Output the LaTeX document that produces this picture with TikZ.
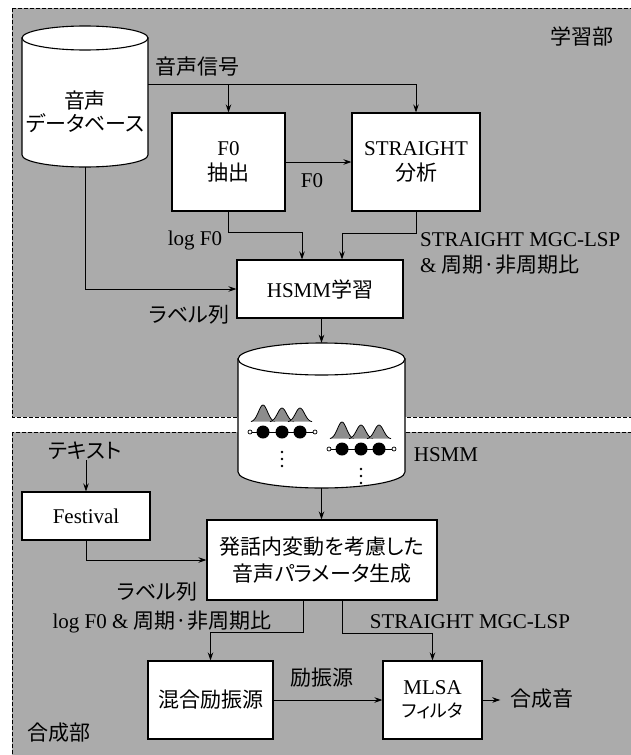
\documentclass[tikz,border=0pt]{standalone}
\usepackage{fontspec}
\setmainfont{Liberation Serif}
\newfontfamily\jpfont{Noto Sans CJK JP}[RawFeature=+palt]
\usetikzlibrary{arrows.meta, positioning, calc}

\begin{document}
\begin{tikzpicture}[x=1pt, y=-1pt, >={Stealth[length=8pt, width=5.5pt]},
    font=\fontsize{21}{25}\selectfont,
    bloc/.style={draw, fill=white, line width=1.1pt, align=center, inner sep=0pt},
    lien/.style={line width=1pt},
    panneau/.style={fill=black!33, draw, dash pattern=on 4pt off 2pt, line width=0.9pt},
    etiq/.style={inner sep=0pt, align=left}]

    \clip (0,0) rectangle (631,755);
    \fill[white] (0,0) rectangle (631,755);

    % Les deux parties
    \draw[panneau] (12,8) rectangle (640,417);
    \draw[panneau] (12,432) rectangle (640,765);
    \node[etiq] (appr) at (582,36) {\jpfont 学習部};
    \node[etiq] (synth) at (59,733) {\jpfont 合成部};

    % Base de données vocale
    \draw[fill=white, line width=1.1pt] (22,38) -- (22,155)
        arc[start angle=180, end angle=0, x radius=63, y radius=12] -- (148,38) -- cycle;
    \draw[fill=white, line width=1.1pt] (85,38) ellipse[x radius=63, y radius=12];
    \node[inner sep=0pt, minimum width=126pt, minimum height=141pt] (db) at (85,96.5) {};
    \node[etiq, align=center, font=\fontsize{21}{23}\selectfont] (dbtxt) at (85,111.5)
        {{\jpfont 音声}\\{\jpfont データベース}};

    % Blocs d'apprentissage
    \node[bloc, minimum width=113pt, minimum height=98pt] (f0) at (228.5,162) {F0\\{\jpfont 抽出}};
    \node[bloc, minimum width=128pt, minimum height=98pt] (sa) at (416,162) {STRAIGHT\\{\jpfont 分析}};
    \node[bloc, minimum width=166pt, minimum height=58pt] (hl) at (320,289) {HSMM{\jpfont 学習}};

    % Modèle HSMM
    \draw[fill=white, line width=1.1pt] (238,359) -- (238,472)
        arc[start angle=180, end angle=0, x radius=83.5, y radius=16] -- (405,359) -- cycle;
    \draw[fill=white, line width=1.1pt] (321.5,359) ellipse[x radius=83.5, y radius=16];
    \node[inner sep=0pt, minimum width=167pt, minimum height=145pt] (hsmm) at (321.5,415.5) {};
    \foreach \gx/\gy in {263/432, 342/449} {
        \begin{scope}[shift={(\gx,\gy)}]
            \foreach \c/\h in {0/17, 19/14, 37/14}
                \draw[fill=black!45, line width=0.8pt] plot[variable=\t, domain=-12:12, samples=25]
                    ({\c+\t}, {-10-\h*exp(-((\t)*(\t))/40)});
            \draw[line width=0.8pt] (-13,0) -- (52,0);
            \foreach \cx in {0,19,37}
                \fill (\cx,0) circle[radius=6.5];
            \draw[fill=white, line width=0.7pt] (-13,0) circle[radius=2] (52,0) circle[radius=2];
            \foreach \dy in {20,27,34}
                \fill (19,\dy) circle[radius=1.3];
        \end{scope}
    }

    % Blocs de synthèse
    \node[etiq] (txt) at (85,451) {\jpfont テキスト};
    \node[bloc, minimum width=128pt, minimum height=48pt] (fest) at (86,516) {Festival};
    \node[bloc, minimum width=230pt, minimum height=80pt, font=\fontsize{21}{27}\selectfont] (gen) at (322,560)
        {{\jpfont 発話内変動を考慮した}\\{\jpfont 音声パラメータ生成}};
    \node[bloc, minimum width=125pt, minimum height=78pt] (mix) at (210.5,700) {\jpfont 混合励振源};
    \node[bloc, minimum width=99pt, minimum height=78pt, font=\fontsize{21}{23}\selectfont] (mlsa) at (432.5,700)
        {MLSA\\{\jpfont\fontsize{18}{23}\selectfont フィルタ}};
    \node[etiq] (out) at (542,699) {\jpfont 合成音};

    % Étiquettes des flux
    \node[etiq] (lsig) at (197,67) {\jpfont 音声信号};
    \node[etiq] (lf0) at (312,181) {F0};
    \node[etiq] (llogf) at (195,240) {log F0};
    \node[etiq, anchor=west, font=\fontsize{21}{26}\selectfont] (lspec) at (420,253)
        {STRAIGHT MGC-LSP\\\& {\jpfont 周期·非周期比}};
    \node[etiq] (llab) at (189,315) {\jpfont ラベル列};
    \node[etiq] (lhsmm) at (446,455) {HSMM};
    \node[etiq] (llab2) at (157,592) {\jpfont ラベル列};
    \node[etiq] (lexc) at (162,622) {log F0 \& {\jpfont 周期·非周期比}};
    \node[etiq] (lmgc) at (470,622) {STRAIGHT MGC-LSP};
    \node[etiq] (lsrc) at (322,678) {\jpfont 励振源};

    % Connexions
    \coordinate (sigd) at ($(db.east)+(0,-12.5)$);
    \draw[lien,->] (sigd) -| (sa.north);
    \draw[lien,->] (f0.north |- sigd) -- (f0.north);
    \draw[lien,->] (f0) -- (sa);
    \draw[lien,->] (f0.south) -- ++(0,21) -| ([xshift=-18pt]hl.north);
    \draw[lien,->] (sa.south) -- ++(0,22) -| ([xshift=22pt]hl.north);
    \draw[lien,->] (db.south) |- (hl.west);
    \draw[lien,->] ([xshift=1.5pt]hl.south) -- ([xshift=1.5pt]hl.south |- hsmm.north);
    \draw[lien,->] (hsmm.south) -- (hsmm.south |- gen.north);
    \draw[lien,->] (fest.north |- txt.south) -- (fest.north);
    \draw[lien,->] (fest.south) |- (gen.west);
    \draw[lien,->] ([xshift=-19pt]gen.south) -- ++(0,32) -| (mix.north);
    \draw[lien,->] ([xshift=20pt]gen.south) -- ++(0,33) -| (mlsa.north);
    \draw[lien,->] (mix) -- (mlsa);
    \draw[lien,->, shorten >=10pt] (mlsa.east) -- (out.west |- mlsa.east);

\end{tikzpicture}
\end{document}
